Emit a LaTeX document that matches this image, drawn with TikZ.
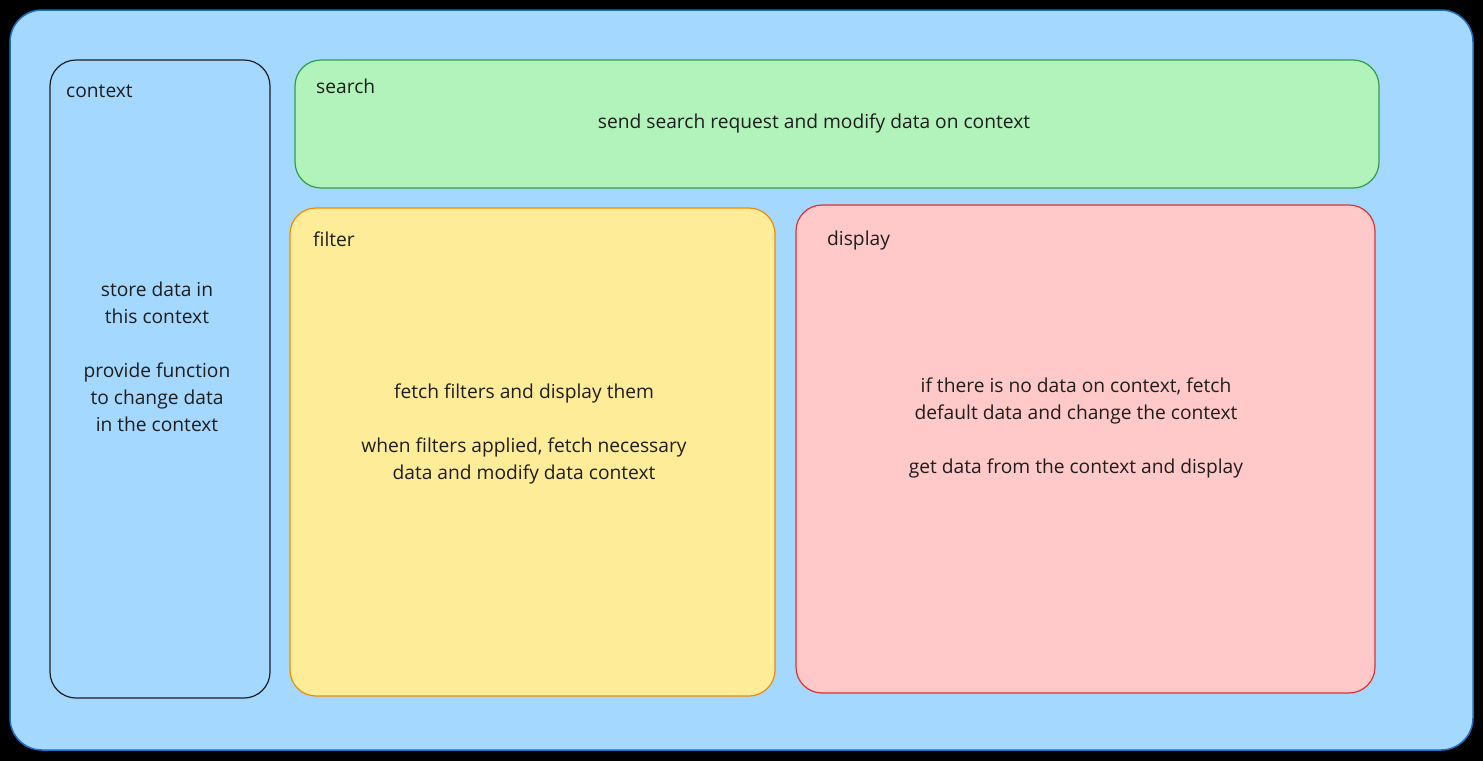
\documentclass[tikz,border=0pt]{standalone}
\usepackage{fontspec}
\setmainfont{Open Sans}
\definecolor{txt}{HTML}{1E1E1E}
\definecolor{bgfill}{HTML}{A5D8FF}
\definecolor{bgdraw}{HTML}{1971C2}
\definecolor{gfill}{HTML}{B2F2BB}
\definecolor{gdraw}{HTML}{2F9E44}
\definecolor{yfill}{HTML}{FFEC99}
\definecolor{ydraw}{HTML}{F08C00}
\definecolor{rfill}{HTML}{FFC9C9}
\definecolor{rdraw}{HTML}{E03131}
\begin{document}
\begin{tikzpicture}[x=1pt,y=-1pt,
  panel/.style={line width=1.2pt, rounded corners=26pt},
  title/.style={anchor=west, text=txt, font=\fontsize{19.2}{27}\selectfont, inner sep=0pt},
  body/.style={align=center, text=txt, font=\fontsize{19.2}{27}\selectfont, inner sep=0pt}
]
\fill[black] (0,0) rectangle (1483,761);
\useasboundingbox (0,0) rectangle (1483,761);
% outer frame
\filldraw[fill=bgfill, draw=bgdraw, line width=1.5pt, rounded corners=32pt] (10,10) rectangle (1473,750);
% context
\filldraw[panel, fill=bgfill, draw=txt] (50,60) rectangle (270,698);
\node[title] (ctxT) at (66,91) {context};
\node[body] (ctxB) at (157,357) {store data in\\this context\\[27pt]provide function\\to change data\\in the context};
% search
\filldraw[panel, fill=gfill, draw=gdraw] (295,60) rectangle (1379,188);
\node[title] (srchT) at (316,86) {search};
\node[body] (srchB) at (814,123) {send search request and modify data on context};
% filter
\filldraw[panel, fill=yfill, draw=ydraw] (290,208) rectangle (775,696);
\node[title] (filT) at (313,239) {filter};
\node[body] (filB) at (524,434) {fetch filters and display them\\[27pt]when filters applied, fetch necessary\\data and modify data context};
% display
\filldraw[panel, fill=rfill, draw=rdraw] (796,205) rectangle (1375,693);
\node[title] (disT) at (827,241) {display};
\node[body] (disB) at (1076,428) {if there is no data on context, fetch\\default data and change the context\\[27pt]get data from the context and display};
\end{tikzpicture}
\end{document}
